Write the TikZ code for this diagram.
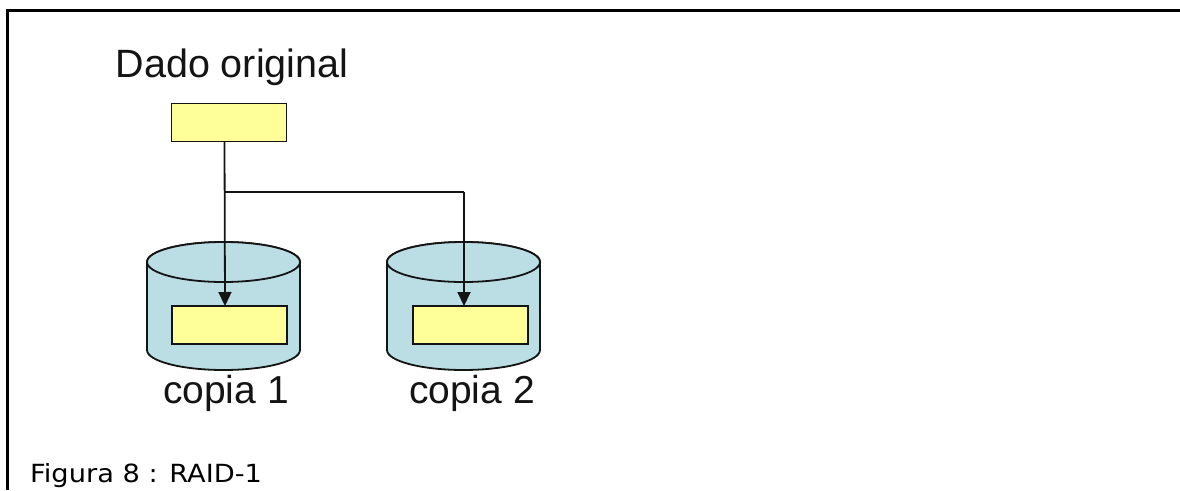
\documentclass[tikz,border=0pt]{standalone}
\usepackage{fontspec}
\setmainfont{Liberation Sans}
\newfontfamily\capfont[FakeStretch=1.09]{DejaVu Sans}
\usetikzlibrary{arrows.meta}
\definecolor{dataYellow}{RGB}{255,255,153}
\definecolor{diskBlue}{RGB}{187,222,228}
\definecolor{ink}{RGB}{20,20,20}
\tikzset{
  datablock/.style={draw=ink, line width=1.8pt, fill=dataYellow, minimum width=115pt, minimum height=38pt, inner sep=0pt, outer sep=0pt},
  disklabel/.style={font=\fontsize{39}{44}\selectfont, text=ink, inner sep=0pt, anchor=base},
  link/.style={draw=ink, line width=1.8pt},
  flow/.style={link, -{Triangle[width=13pt,length=14pt]}},
  diskbody/.style={draw=ink, line width=1.8pt, fill=diskBlue}
}
\newcommand{\disk}[2]{% left x, right x
  \path[diskbody] (#1,262) -- (#1,350)
    arc[start angle=180, end angle=360, x radius={(#2-#1)/2}, y radius=-20]
    -- (#2,262) arc[start angle=0, end angle=-180, x radius={(#2-#1)/2}, y radius=20] -- cycle;
  \draw[diskbody] ({(#1+#2)/2},262) ellipse[x radius={(#2-#1)/2}, y radius=20];
}
\begin{document}
\begin{tikzpicture}[x=1pt, y=-1pt]
  \useasboundingbox (0,0) rectangle (1180,490);
  \fill[white] (0,0) rectangle (1180,490);
  % outer frame (top and left edges)
  \draw[black, line width=3pt] (7.5,490) -- (7.5,10.5) -- (1180,10.5);

  % title and source block
  \node[font=\fontsize{39.5}{44}\selectfont, text=ink, anchor=base] (title) at (232,77) {Dado original};
  \node[datablock] (src) at (229,122.5) {};

  % the two mirror disks
  \disk{147}{300}
  \disk{387}{540}
  \node[datablock] (d1) at (229.5,325) {};
  \node[datablock] (d2) at (470.5,325) {};
  \node[disklabel] (l1) at (226,403) {copia 1};
  \node[disklabel] (l2) at (472,403) {copia 2};

  % mirrored writes
  \coordinate (j) at ([xshift=-4.5pt]src.south |- 0,192);
  \draw[flow] ([xshift=-4.5pt]src.south) -- ([xshift=-4.5pt]d1.north);
  \draw[link] (j) -- (464,192);
  \draw[flow] (464,192) -- ([xshift=-6.5pt]d2.north);

  % caption
  \node[font=\capfont\fontsize{25}{30}\selectfont, text=black, anchor=base west, inner sep=0pt] (cap) at (30,482) {Figura 8 : RAID-1};
\end{tikzpicture}
\end{document}
